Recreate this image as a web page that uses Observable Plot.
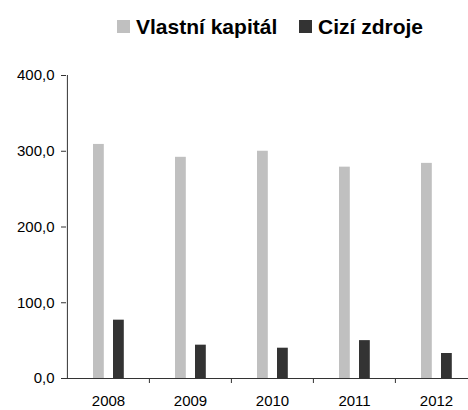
<!DOCTYPE html>
<html><head><meta charset="utf-8">
<script src="https://cdn.jsdelivr.net/npm/d3@7"></script>
<script src="https://cdn.jsdelivr.net/npm/@observablehq/plot@0.6"></script>
<style>
body{margin:0;background:#fff;font-family:"Liberation Sans",Arial,sans-serif;}
#legend{position:relative;height:50px;font-weight:bold;font-size:21px;color:#000;}
.item{position:absolute;top:3px;height:47px;display:flex;align-items:center;white-space:nowrap;}
.sw{width:13px;height:13px;margin-right:6px;}
</style></head><body>
<div id="legend"></div>
<div id="chart"></div>
<script>
const years = ["2008", "2009", "2010", "2011", "2012"];
const seriesNames = ["Vlastní kapitál", "Cizí zdroje"];
const seriesColors = ["#c0c0c0", "#333333"];
const vlastniKapital = [309, 292, 300, 279, 284];
const ciziZdroje = [77, 44, 40, 50, 33];
const yTicks = [0, 100, 200, 300, 400];

const legendLeft = [117, 299];
const legend = document.getElementById("legend");
seriesNames.forEach((n, i) => {
  const it = document.createElement("div");
  it.className = "item";
  it.style.left = legendLeft[i] + "px";
  const sw = document.createElement("div");
  sw.className = "sw";
  sw.style.background = seriesColors[i];
  const t = document.createElement("span");
  t.textContent = n;
  it.appendChild(sw); it.appendChild(t);
  legend.appendChild(it);
});

const rowsV = years.map((y, i) => ({year: y, value: vlastniKapital[i]}));
const rowsC = years.map((y, i) => ({year: y, value: ciziZdroje[i]}));

const x0 = 66, x1 = 477;
const bw = (x1 - x0) / years.length;
const axisColor = "#333";
const fmt = d => d.toFixed(1).replace(".", ",");

const chart = Plot.plot({
  width: 468,
  height: 360,
  marginTop: 25,
  marginBottom: 32,
  marginLeft: 66,
  marginRight: 0,
  style: {fontFamily: "'Liberation Sans', Arial, sans-serif", fontSize: "15px", color: "#000", background: "#fff"},
  x: {domain: years, range: [x0, x1], padding: 0, axis: null},
  y: {domain: [0, 400], axis: null},
  marks: [
    Plot.barY(rowsV, {x: "year", y: "value", fill: seriesColors[0], insetLeft: 26, insetRight: bw - 37}),
    Plot.barY(rowsC, {x: "year", y: "value", fill: seriesColors[1], insetLeft: 46, insetRight: bw - 57}),
    Plot.axisY({ticks: yTicks, tickFormat: fmt, tickSize: 5, tickPadding: 7, stroke: axisColor, fill: "#000", label: null}),
    Plot.ruleX([years[0]], {x: d => d, dx: -bw / 2, y1: 0, y2: 400, stroke: axisColor}),
    Plot.ruleX(years.slice(1), {x: d => d, dx: -bw / 2, insetTop: 303, insetBottom: -5, stroke: axisColor}),
    Plot.ruleY([0], {stroke: axisColor}),
    Plot.axisX({tickSize: 0, tickPadding: 17, fill: "#000", label: null})
  ]
});
document.getElementById("chart").appendChild(chart);
</script>
</body></html>
